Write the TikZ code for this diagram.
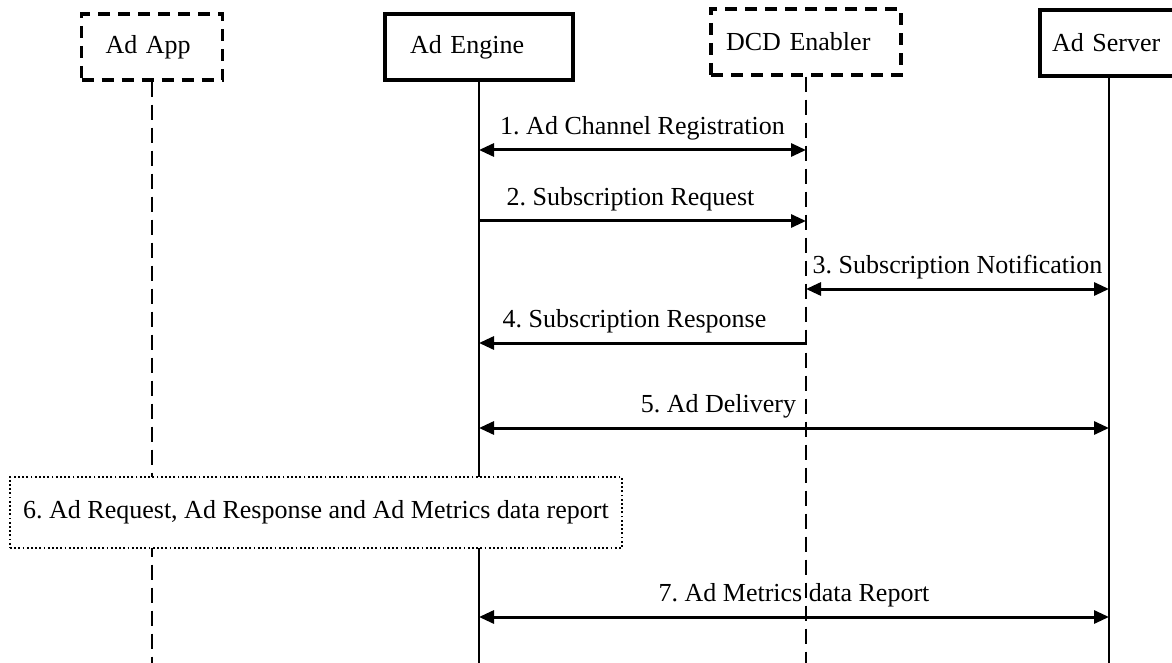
\documentclass[tikz,border=0pt]{standalone}
\usepackage{fontspec}
\setmainfont{Liberation Serif}
\usetikzlibrary{arrows.meta}
\frenchspacing
\tikzset{
  party/.style={line width=1.6pt, minimum height=33pt, inner xsep=0pt, align=left, font=\fontsize{13}{15}\selectfont},
  solidbox/.style={party, draw},
  dashbox/.style={party, draw, dash pattern=on 6pt off 4pt},
  lifeline/.style={line width=1.4pt},
  dashline/.style={lifeline, dash pattern=on 7.5pt off 4pt},
  msg/.style={line width=1.5pt, -{Triangle[length=7.5pt,width=6.5pt]}},
  msgboth/.style={line width=1.5pt, {Triangle[length=7.5pt,width=6.5pt]}-{Triangle[length=7.5pt,width=6.5pt]}},
  msglabel/.style={above=3pt, font=\fontsize{13}{15}\selectfont, inner sep=1pt}
}

\begin{document}
\begin{tikzpicture}[x=0.5pt, y=-0.5pt]
\useasboundingbox (0,0) rectangle (1172,663);
\node[dashbox, minimum width=70.5pt, text width=46.5pt] (app) at (152,47) {Ad App};
\node[solidbox, minimum width=94pt, text width=69pt] (engine) at (479,47) {Ad Engine};
\node[dashbox, minimum width=95pt, text width=80pt] (dcd) at (806,42) {DCD Enabler};
\node[solidbox, minimum width=69pt, text width=57pt] (server) at (1109,43) {Ad Server};
\coordinate (bot) at (0,663);
% lifelines
\draw[dashline] (app.south) -- (app.south |- bot);
\draw[lifeline] (engine.south) -- (engine.south |- bot);
\draw[dashline] (dcd.south) -- (dcd.south |- bot);
\draw[lifeline] (server.south) -- (server.south |- bot);
\foreach \n/\y in {1/150, 2/221, 3/289, 4/343, 5/428, 7/617} \coordinate (m\n) at (0,\y);
% messages
\draw[msgboth] (engine |- m1) -- (dcd |- m1) node[msglabel, midway] {1. Ad Channel Registration};
\draw[msg] (engine |- m2) -- (dcd |- m2) node[msglabel, midway, xshift=-6pt] {2. Subscription Request};
\draw[msgboth] (dcd |- m3) -- (server |- m3) node[msglabel, midway] {3. Subscription Notification};
\draw[msg] (dcd |- m4) -- (engine |- m4) node[msglabel, midway, xshift=-4pt] {4. Subscription Response};
\draw[msgboth] (engine |- m5) -- (server |- m5) node[msglabel, pos=.38] {5. Ad Delivery};
\node[draw, fill=white, line width=1.2pt, dash pattern=on 0.9pt off 1.2pt, minimum width=306pt, minimum height=35.5pt, font=\fontsize{13}{15}\selectfont] (report) at (316,512.5) {6. Ad Request, Ad Response and Ad Metrics data report};
\draw[msgboth] (engine |- m7) -- (server |- m7) node[msglabel, midway] {7. Ad Metrics data Report};
\end{tikzpicture}
\end{document}
